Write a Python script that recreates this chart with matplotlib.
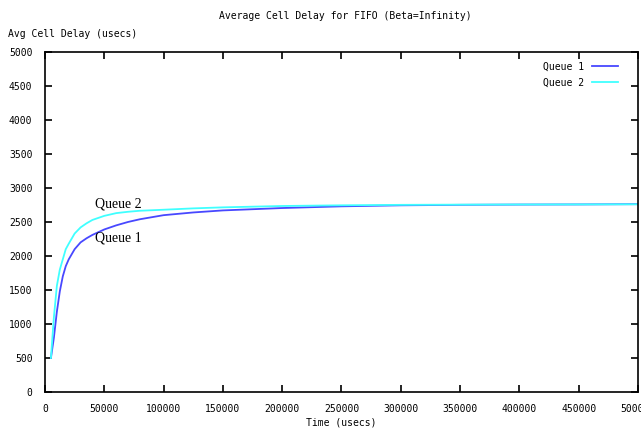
import matplotlib
matplotlib.use("Agg")
import matplotlib.pyplot as plt

# average cell delay over time, sampled from the simulation log
time_us = [5000, 7500, 10000, 12500, 15000, 17500, 20000, 25000, 30000,
           35000, 40000, 50000, 60000, 70000, 80000, 100000, 125000,
           150000, 200000, 250000, 300000, 350000, 400000, 450000, 500000]
queue1 = [500, 800, 1180, 1480, 1700, 1850, 1950, 2100, 2200,
          2260, 2310, 2390, 2450, 2500, 2540, 2600, 2640,
          2670, 2705, 2730, 2745, 2752, 2756, 2758, 2762]
queue2 = [500, 1100, 1560, 1800, 1950, 2100, 2180, 2330, 2420,
          2480, 2530, 2590, 2630, 2650, 2665, 2680, 2700,
          2715, 2735, 2745, 2752, 2755, 2757, 2758, 2760]

x_ticks = list(range(0, 500001, 50000))
y_ticks = list(range(0, 5001, 500))

mono = "DejaVu Sans Mono"

fig = plt.figure(figsize=(6.41, 4.33), dpi=100)
ax = fig.add_axes([0.0702, 0.0947, 0.925, 0.7853])

ax.plot(time_us, queue1, color="#4848ff", lw=1.3, label="Queue 1")
ax.plot(time_us, queue2, color="#40ffff", lw=1.3, label="Queue 2")

ax.set_xlim(0, 500000)
ax.set_ylim(0, 5000)
ax.set_xticks(x_ticks)
ax.set_yticks(y_ticks)
ax.set_xticklabels([str(v) for v in x_ticks], fontfamily=mono, fontsize=7)
ax.set_yticklabels([str(v) for v in y_ticks], fontfamily=mono, fontsize=7)
ax.tick_params(direction="in", top=True, right=True, length=5, width=1.2,
               pad=9)
for s in ax.spines.values():
    s.set_linewidth(1.2)

ax.set_xlabel("Time (usecs)", fontfamily=mono, fontsize=7, labelpad=2)
fig.text(0.012, 0.922, "Avg Cell Delay (usecs)", fontfamily=mono,
         fontsize=7, ha="left", va="center")
fig.text(0.538, 0.962, "Average Cell Delay for FIFO (Beta=Infinity)",
         fontfamily=mono, fontsize=7, ha="center", va="center")

ax.text(42000, 2760, "Queue 2", fontfamily="Liberation Serif", fontsize=10,
        ha="left", va="center")
ax.text(42000, 2270, "Queue 1", fontfamily="Liberation Serif", fontsize=10,
        ha="left", va="center")

leg = ax.legend(loc="upper right", bbox_to_anchor=(0.982, 1.0),
                frameon=False, markerfirst=False,
                prop={"family": mono, "size": 7}, handlelength=2.6,
                borderaxespad=0.6, labelspacing=0.6)

fig.savefig("out.png", dpi=100)
